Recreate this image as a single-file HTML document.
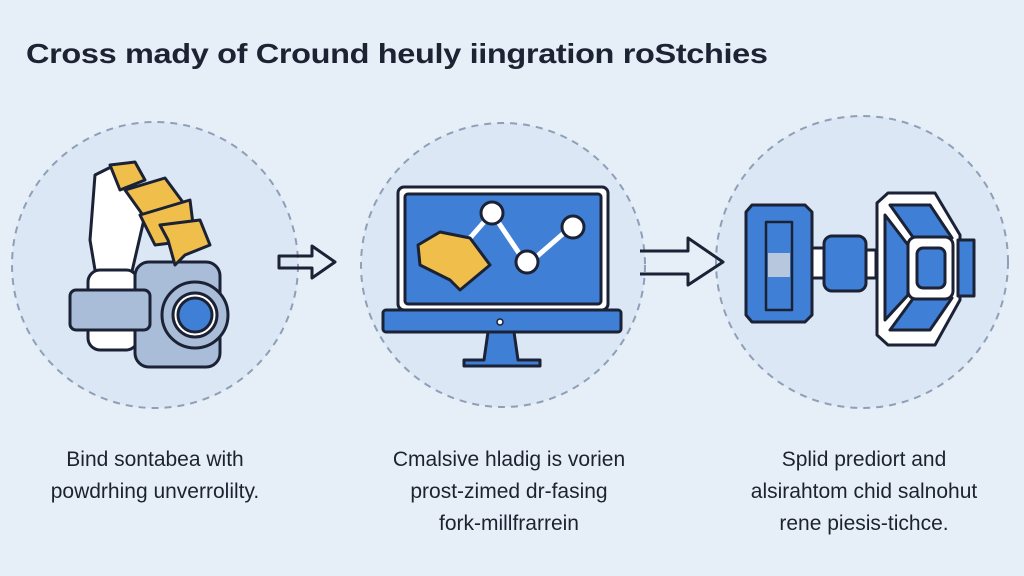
<!DOCTYPE html>
<html><head><meta charset="utf-8"><style>
html,body{margin:0;padding:0;width:1024px;height:576px;overflow:hidden;background:#e6eff8;}
.t{position:absolute;font-family:"Liberation Sans",sans-serif;color:#1d2333;}
.cap{position:absolute;font-family:"Liberation Sans",sans-serif;font-size:21px;line-height:32px;color:#1e2230;text-align:center;width:320px;}
</style></head><body>
<div class="t" style="left:26px;top:38px;font-size:28px;font-weight:bold;letter-spacing:-0.3px;white-space:nowrap;transform-origin:0 0;transform:scaleX(1.16);">Cross mady of Cround heuly iingration roStchies</div>
<svg width="1024" height="576" style="position:absolute;left:0;top:0">
<g fill="#dbe7f4" stroke="#8e9fb7" stroke-width="2" stroke-dasharray="7 6">
<circle cx="155" cy="265" r="143"/>
<circle cx="503" cy="265" r="142"/>
<circle cx="862" cy="262" r="146"/>
</g>
<g stroke="#1b2235" stroke-width="3" stroke-linejoin="round">
<path d="M95 175 L115 165 L145 215 L130 280 L95 270 L90 240 Z" fill="#fff"/>
<rect x="88" y="270" width="50" height="80" rx="12" fill="#fff"/>
<rect x="135" y="262" width="85" height="105" rx="14" fill="#a9bcd8"/>
<rect x="70" y="290" width="80" height="40" rx="6" fill="#a9bcd8"/>
<circle cx="195" cy="315" r="33" fill="#a9bcd8"/>
<circle cx="195" cy="315" r="22" fill="#fff"/>
<circle cx="195" cy="315" r="17" fill="#3f7fd6"/>
<path d="M110 165 L135 162 L145 180 L120 190 Z" fill="#f0be4a"/>
<path d="M125 190 L165 178 L185 205 L150 225 Z" fill="#f0be4a"/>
<path d="M140 215 L190 200 L195 240 L155 245 Z" fill="#f0be4a"/>
<path d="M160 225 L200 220 L210 245 L185 255 L175 265 L168 240 Z" fill="#f0be4a"/>
<path d="M279 256 L312 256 L312 246 L335 262 L312 278 L312 268 L279 268 Z" fill="none"/>
<rect x="398" y="187" width="210" height="123" rx="6" fill="#fff"/>
<rect x="405" y="194" width="196" height="110" rx="3" fill="#3f7fd6"/>
<rect x="383" y="310" width="238" height="22" rx="3" fill="#3f7fd6"/>
<path d="M488 332 L484 360 L464 360 L464 366 L540 366 L540 360 L518 360 L514 332 Z" fill="#3f7fd6"/>
<circle cx="500" cy="322" r="3" fill="#fff" stroke-width="1.5"/>
<path d="M455 255 L492 213 L527 265 L572 226" fill="none" stroke="#fff" stroke-width="5"/>
<circle cx="492" cy="213" r="11" fill="#fff"/>
<circle cx="527" cy="262" r="11" fill="#fff"/>
<circle cx="573" cy="227" r="11" fill="#fff"/>
<path d="M418 245 L440 232 L470 238 L490 265 L460 290 L450 280 L420 265 Z" fill="#f0be4a"/>
<path d="M640 251 L688 251 L688 238 L723 262 L688 285 L688 274 L640 274" fill="none"/>
<path d="M752 205 L805 205 L812 212 L812 315 L805 322 L752 322 L746 315 L746 212 Z" fill="#3f7fd6"/>
<rect x="766" y="222" width="26" height="88" fill="none" stroke-width="2.5"/>
<rect x="768" y="253" width="22" height="24" fill="#b7c7de" stroke="none"/>
<rect x="812" y="248" width="12" height="30" fill="#fff"/>
<rect x="824" y="236" width="42" height="55" rx="8" fill="#3f7fd6"/>
<rect x="866" y="250" width="10" height="28" fill="#fff"/>
<path d="M888 193 L935 193 L960 235 L960 300 L935 345 L888 345 L877 335 L877 203 Z" fill="#fff"/>
<path d="M890 205 L930 205 L952 238 L915 240 Z M890 330 L930 330 L952 298 L915 296 Z M885 215 L908 245 L908 295 L885 320 Z" fill="#3f7fd6"/>
<rect x="908" y="237" width="45" height="62" rx="8" fill="#fff"/>
<rect x="917" y="248" width="28" height="40" rx="6" fill="#3f7fd6"/>
<rect x="958" y="240" width="16" height="56" fill="#3f7fd6"/>
</g>
</svg>
<div class="cap" style="left:-5px;top:444px;">Bind sontabea with<br>powdrhing unverrolilty.</div>
<div class="cap" style="left:349px;top:444px;">Cmalsive hladig is vorien<br>prost-zimed dr-fasing<br>fork-millfrarrein</div>
<div class="cap" style="left:704px;top:444px;">Splid prediort and<br>alsirahtom chid salnohut<br>rene piesis-tichce.</div>
</body></html>
